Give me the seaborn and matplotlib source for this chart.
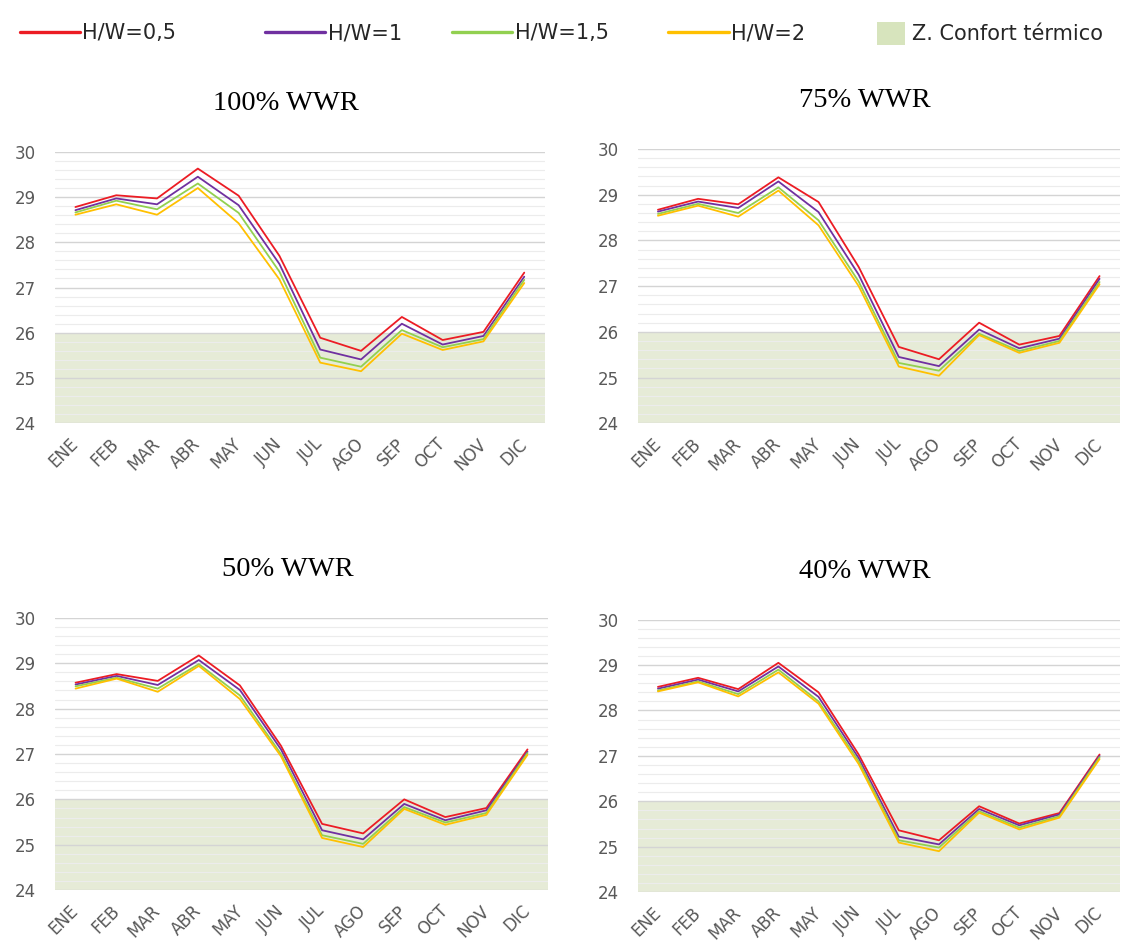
import pandas as pd
import matplotlib.pyplot as plt
import seaborn as sns
from matplotlib.lines import Line2D
from matplotlib.patches import Patch
from matplotlib.ticker import MultipleLocator

# Data
months = ["ENE", "FEB", "MAR", "ABR", "MAY", "JUN", "JUL", "AGO", "SEP", "OCT", "NOV", "DIC"]
series_names = ["H/W=0,5", "H/W=1", "H/W=1,5", "H/W=2"]
panel_titles = ["100% WWR", "75% WWR", "50% WWR", "40% WWR"]

wwr100_hw05 = [28.78, 29.04, 28.97, 29.63, 29.03, 27.70, 25.89, 25.60, 26.35, 25.84, 26.02, 27.33]
wwr100_hw1 = [28.71, 28.97, 28.84, 29.45, 28.82, 27.52, 25.63, 25.41, 26.20, 25.74, 25.93, 27.24]
wwr100_hw15 = [28.66, 28.92, 28.73, 29.30, 28.65, 27.35, 25.45, 25.25, 26.06, 25.68, 25.86, 27.17]
wwr100_hw2 = [28.61, 28.84, 28.61, 29.20, 28.42, 27.18, 25.34, 25.15, 25.98, 25.62, 25.81, 27.10]

wwr75_hw05 = [28.67, 28.91, 28.79, 29.38, 28.84, 27.42, 25.67, 25.40, 26.20, 25.72, 25.91, 27.22]
wwr75_hw1 = [28.63, 28.85, 28.71, 29.29, 28.62, 27.25, 25.45, 25.25, 26.05, 25.64, 25.85, 27.16]
wwr75_hw15 = [28.58, 28.80, 28.60, 29.16, 28.44, 27.10, 25.32, 25.15, 25.96, 25.58, 25.80, 27.09]
wwr75_hw2 = [28.54, 28.76, 28.52, 29.09, 28.33, 27.00, 25.24, 25.04, 25.93, 25.54, 25.76, 27.04]

wwr50_hw05 = [28.57, 28.76, 28.61, 29.17, 28.51, 27.18, 25.46, 25.25, 26.00, 25.61, 25.81, 27.10]
wwr50_hw1 = [28.53, 28.72, 28.52, 29.07, 28.41, 27.10, 25.32, 25.12, 25.90, 25.54, 25.76, 27.05]
wwr50_hw15 = [28.49, 28.68, 28.44, 28.98, 28.29, 27.00, 25.21, 25.02, 25.83, 25.49, 25.70, 27.02]
wwr50_hw2 = [28.44, 28.66, 28.37, 28.94, 28.21, 26.95, 25.15, 24.95, 25.79, 25.44, 25.66, 26.98]

wwr40_hw05 = [28.52, 28.72, 28.47, 29.05, 28.40, 27.03, 25.36, 25.14, 25.89, 25.51, 25.74, 27.03]
wwr40_hw1 = [28.48, 28.68, 28.42, 28.97, 28.30, 26.95, 25.22, 25.05, 25.83, 25.47, 25.71, 27.00]
wwr40_hw15 = [28.44, 28.64, 28.36, 28.90, 28.20, 26.88, 25.14, 24.98, 25.78, 25.42, 25.67, 26.97]
wwr40_hw2 = [28.42, 28.62, 28.31, 28.84, 28.15, 26.82, 25.09, 24.90, 25.75, 25.38, 25.64, 26.93]

panels = [
    [wwr100_hw05, wwr100_hw1, wwr100_hw15, wwr100_hw2],
    [wwr75_hw05, wwr75_hw1, wwr75_hw15, wwr75_hw2],
    [wwr50_hw05, wwr50_hw1, wwr50_hw15, wwr50_hw2],
    [wwr40_hw05, wwr40_hw1, wwr40_hw15, wwr40_hw2],
]

comfort_low, comfort_high = 24, 26

colors = ["#EC1C24", "#7030A0", "#92D050", "#FFC000"]
palette = dict(zip(series_names, colors))
shade = "#E6EBD7"

sns.set_theme(style="white")
plt.rcParams["font.family"] = ["DejaVu Sans"]

fig = plt.figure(figsize=(11.23, 9.49), dpi=100)

# axes rectangles [left, bottom, width, height] in figure fractions
rects = [
    [0.049, 0.554, 0.436, 0.286],
    [0.568, 0.554, 0.429, 0.289],
    [0.049, 0.062, 0.439, 0.287],
    [0.568, 0.060, 0.429, 0.287],
]

for rect, title, values in zip(rects, panel_titles, panels):
    ax = fig.add_axes(rect)
    rows = []
    for name, vals in zip(series_names, values):
        for m, v in zip(months, vals):
            rows.append({"Mes": m, "T": v, "Serie": name})
    df = pd.DataFrame(rows)

    ax.axhspan(comfort_low, comfort_high, color=shade, zorder=0, lw=0)
    sns.lineplot(data=df, x="Mes", y="T", hue="Serie", palette=palette,
                 linewidth=1.3, ax=ax, legend=False, sort=False, zorder=3)

    ax.set_ylim(24, 30)
    ax.set_xlim(-0.5, 11.5)
    ax.yaxis.set_major_locator(MultipleLocator(1))
    ax.yaxis.set_minor_locator(MultipleLocator(0.2))
    ax.grid(axis="y", which="major", color="#D4D4D4", linewidth=1.0, zorder=1)
    ax.grid(axis="y", which="minor", color="#ECECEC", linewidth=0.8, zorder=1)
    ax.grid(axis="x", visible=False)
    ax.set_axisbelow(True)
    for s in ax.spines.values():
        s.set_visible(False)
    ax.set_xlabel("")
    ax.set_ylabel("")
    ax.tick_params(axis="y", which="both", length=0, labelsize=12, labelcolor="#595959", pad=14)
    ax.tick_params(axis="x", length=0, labelsize=12, labelcolor="#595959", pad=13)
    plt.setp(ax.get_xticklabels(), rotation=45, ha="right", va="center", rotation_mode="anchor")
    ax.set_title(title, family="Liberation Serif", fontsize=20.5, pad=30, color="black", x=0.472)

# legend entries placed along the top like the original
legend_x = [0.0178, 0.236, 0.4025, 0.595, 0.781]
handles = [Line2D([0], [0], color=c, lw=2.4) for c in colors]
handles.append(Patch(facecolor="#D7E4BD", edgecolor="none"))
labels = series_names + ["Z. Confort térmico"]
for x, h, lab in zip(legend_x, handles, labels):
    is_patch = isinstance(h, Patch)
    fig.legend([h], [lab], loc="center left", bbox_to_anchor=(x, 0.965), frameon=False,
               fontsize=15, labelcolor="#262626", borderpad=0, borderaxespad=0,
               handlelength=1.35 if is_patch else 2.9, handleheight=1.3 if is_patch else 0.7,
               handletextpad=0.33 if is_patch else 0.1)

plt.savefig("out.png", dpi=100)
